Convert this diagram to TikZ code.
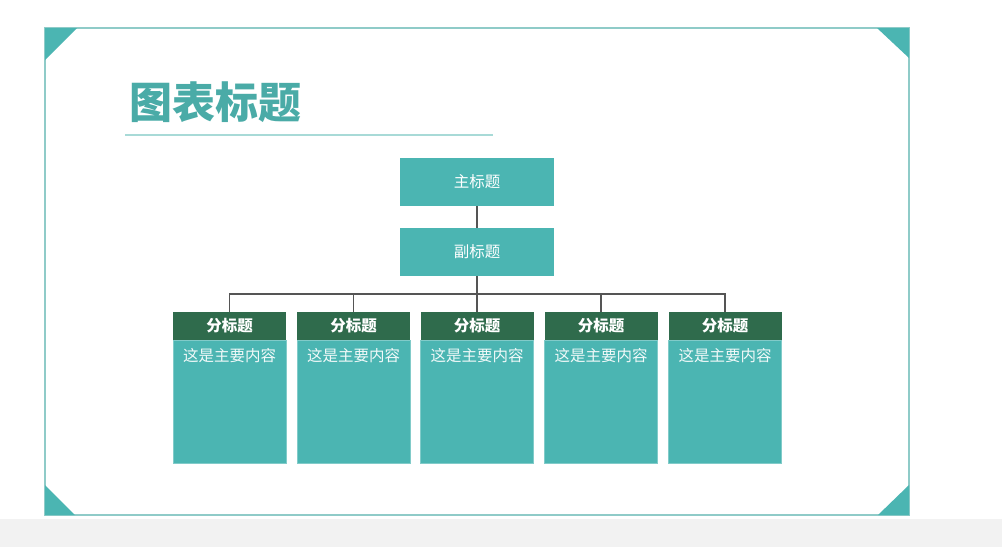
\documentclass[tikz,border=0pt]{standalone}
\usepackage{fontspec}
\setmainfont{Noto Sans CJK SC}
\definecolor{tealbox}{HTML}{4BB5B2}
\definecolor{tealtitle}{HTML}{4AABA7}
\definecolor{darkhead}{HTML}{2F6B4C}
\definecolor{framecol}{HTML}{8FCBC8}
\definecolor{rulecol}{HTML}{A8DAD7}
\definecolor{linkcol}{HTML}{555555}
\definecolor{stripcol}{HTML}{F2F2F2}
\tikzset{
  topbox/.style={fill=tealbox, draw=none, minimum width=154pt, minimum height=48pt, inner sep=0pt, text=white, font=\fontsize{15.5}{18}\selectfont},
  headbox/.style={fill=darkhead, draw=none, minimum width=113pt, minimum height=28pt, inner sep=0pt, text=white, font=\fontsize{15.5}{18}\selectfont\bfseries},
  bodybox/.style={fill=tealbox, draw=tealbox!70!white, line width=0.6pt, minimum width=113pt, minimum height=123pt, inner sep=0pt},
  bodytext/.style={text=white!92!tealbox, font=\fontsize{15.5}{18}\selectfont, inner sep=0pt},
  link/.style={draw=linkcol, line width=1.3pt},
  corner/.style={fill=tealbox, draw=none}
}
\begin{document}
\begin{tikzpicture}[x=1pt,y=-1pt]
\useasboundingbox (0,0) rectangle (1002,547);
\fill[white] (0,0) rectangle (1002,547);
\fill[stripcol] (0,519) rectangle (1002,547);
% slide frame
\draw[framecol, line width=1.3pt] (45,28) rectangle (909,515);
\fill[corner] (45,28) -- (77,28) -- (45,60) -- cycle;
\fill[corner] (877,28) -- (909,28) -- (909,58) -- cycle;
\fill[corner] (45,485) -- (75,515) -- (45,515) -- cycle;
\fill[corner] (909,485) -- (909,515) -- (878,515) -- cycle;
% title
\node[anchor=west, inner sep=0pt, text=tealtitle, font=\fontsize{43}{48}\selectfont\bfseries] (title) at (129,102) {图表标题};
\draw[rulecol, line width=1.2pt] (125,135) -- (493,135);
% top boxes
\node[topbox] (main) at (477,182) {主标题};
\node[topbox] (sub) at (477,252) {副标题};
\draw[link] (main.south) -- (sub.north);
\coordinate (bus) at (477,294);
\draw[link] (sub.south) -- (bus);
% children
\foreach \i/\x in {1/229.5, 2/353.5, 3/477, 4/601, 5/725}{
  \node[headbox] (h\i) at (\x,326) {分标题};
  \node[bodybox, anchor=north] (b\i) at (h\i.south) {};
  \node[bodytext] (t\i) at (\x,356) {这是主要内容};
}
\draw[link] (h1.north) |- (bus) -| (h5.north);
\draw[link] (h2.north) -- (h2.north |- bus);
\draw[link] (h3.north) -- (bus);
\draw[link] (h4.north) -- (h4.north |- bus);
\end{tikzpicture}
\end{document}
